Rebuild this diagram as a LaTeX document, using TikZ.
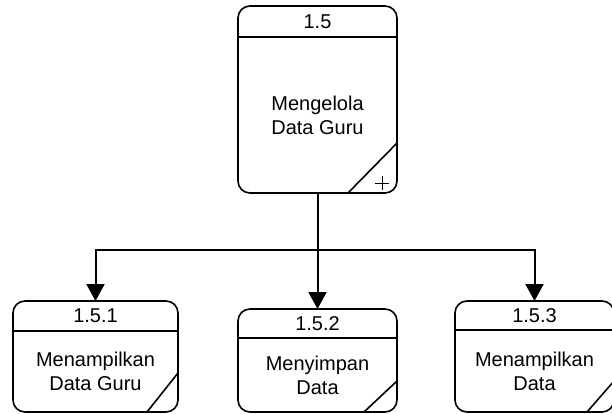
\documentclass[tikz,border=0pt]{standalone}
\usepackage{fontspec}
\setmainfont{Liberation Sans}
\usetikzlibrary{positioning,arrows.meta,calc}
\tikzset{
proc/.style={
  draw=black, line width=1.6pt, rounded corners=12pt,
  inner sep=0pt, outer sep=0pt
  },
lbl/.style={
  font=\fontsize{20}{24}\selectfont, align=center, inner sep=0pt
  },
link/.style={
  line width=2pt, -{Triangle[length=17pt,width=18pt]}
  }
}

\begin{document}
\begin{tikzpicture}[x=1pt,y=-1pt]
\useasboundingbox (0,0) rectangle (612,414);

% process 1.5
\node[proc, minimum width=159pt, minimum height=187pt] (P15) at (317.5,99.5) {};
\coordinate (P15h) at ([yshift=-31pt]P15.north);
\draw[line width=1.6pt] (P15.west |- P15h) -- (P15.east |- P15h);
\node[lbl] (P15n) at ($(P15.north)!0.5!(P15h)$) {1.5};
\node[lbl] (P15t) at ($(P15h)!0.5!(P15.south)$) {Mengelola\\Data Guru};
\draw[line width=1.6pt] ([xshift=-49pt]P15.south east) -- ([yshift=50pt]P15.south east);
\coordinate (P15plus) at ([xshift=-15pt,yshift=10pt]P15.south east);
\draw[line width=1pt] (P15plus) +(-7,0) -- +(7,0)
                      (P15plus) +(0,-7) -- +(0,7);

% process 1.5.1
\node[proc, minimum width=165pt, minimum height=111pt] (P151) at (95.5,356.5) {};
\coordinate (P151h) at ([yshift=-30pt]P151.north);
\draw[line width=1.6pt] (P151.west |- P151h) -- (P151.east |- P151h);
\node[lbl] (P151n) at ($(P151.north)!0.5!(P151h)$) {1.5.1};
\node[lbl] (P151t) at ($(P151h)!0.5!(P151.south)$) {Menampilkan\\Data Guru};
\draw[line width=1.6pt] ([xshift=-31pt]P151.south east) -- ([yshift=39pt]P151.south east);

% process 1.5.2
\node[proc, minimum width=159pt, minimum height=103pt] (P152) at (317.5,360.5) {};
\coordinate (P152h) at ([yshift=-29pt]P152.north);
\draw[line width=1.6pt] (P152.west |- P152h) -- (P152.east |- P152h);
\node[lbl] (P152n) at ($(P152.north)!0.5!(P152h)$) {1.5.2};
\node[lbl] (P152t) at ($(P152h)!0.5!(P152.south)$) {Menyimpan\\Data};
\draw[line width=1.6pt] ([xshift=-33pt]P152.south east) -- ([yshift=31pt]P152.south east);

% process 1.5.3
\node[proc, minimum width=159pt, minimum height=111pt] (P153) at (534.5,356.5) {};
\coordinate (P153h) at ([yshift=-29pt]P153.north);
\draw[line width=1.6pt] (P153.west |- P153h) -- (P153.east |- P153h);
\node[lbl] (P153n) at ($(P153.north)!0.5!(P153h)$) {1.5.3};
\node[lbl] (P153t) at ($(P153h)!0.5!(P153.south)$) {Menampilkan\\Data};
\draw[line width=1.6pt] ([xshift=-27pt]P153.south east) -- ([yshift=31pt]P153.south east);

% links
\coordinate (J) at ($(P15.south)+(0,57)$);
\draw[link] (P15.south) -- (P152.north);
\draw[link] (J) -| (P151.north);
\draw[link] (J) -| (P153.north);

\end{tikzpicture}
\end{document}
